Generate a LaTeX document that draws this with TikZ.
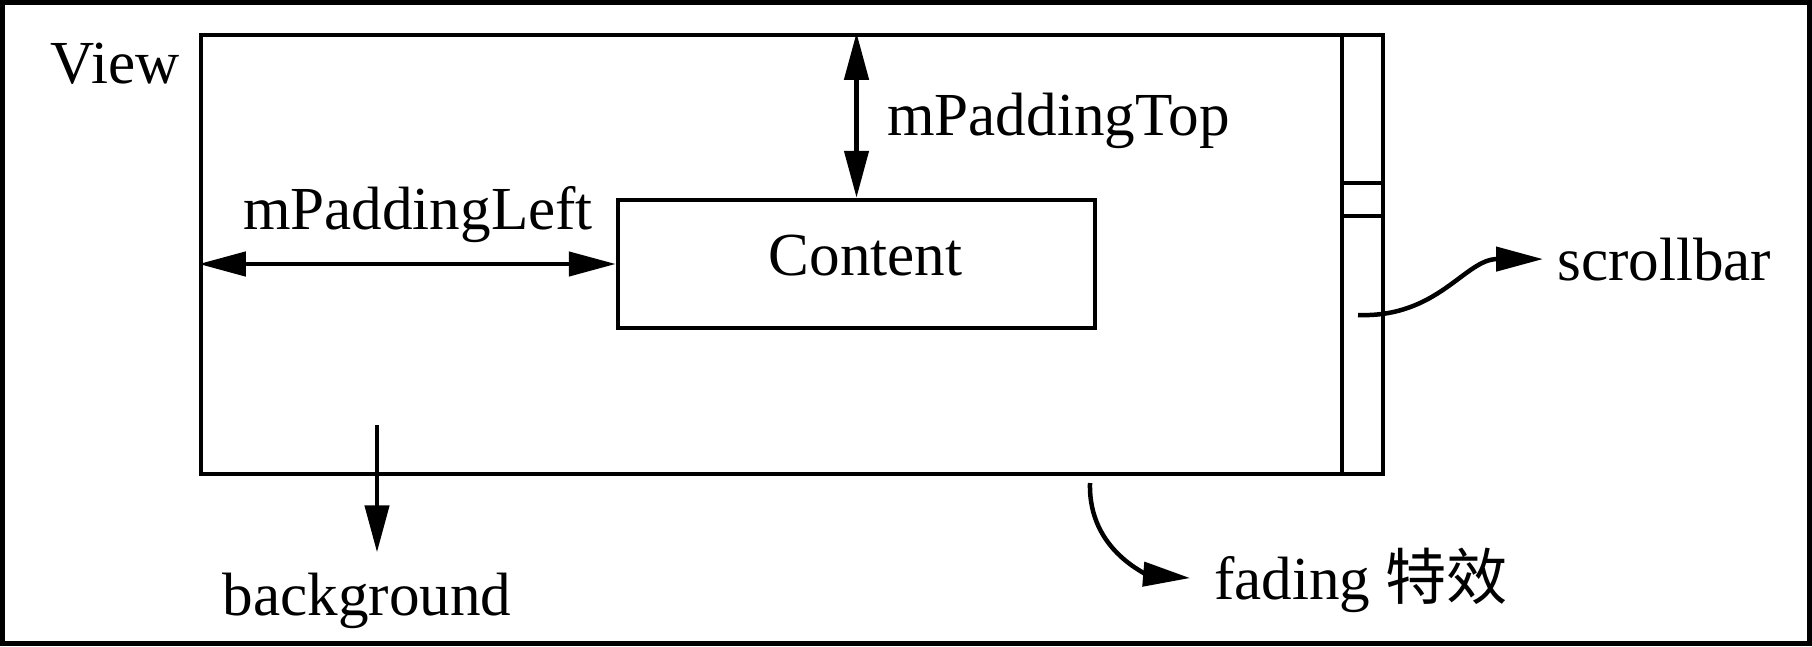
\documentclass[tikz,border=0pt]{standalone}
\usepackage{fontspec}
\setmainfont{Liberation Serif}
\newfontfamily\cjk{Noto Sans CJK SC}
\usetikzlibrary{arrows.meta,positioning}

\begin{document}
\begin{tikzpicture}[
    x=0.1mm, y=-0.1mm,
    line width=0.45mm,
    every node/.style={font=\fontsize{17.4pt}{20pt}\selectfont},
    frame/.style={rectangle, draw, inner sep=0pt},
    txt/.style={inner sep=0pt},
    arr/.style={-{Triangle[length=4.7mm, width=2.4mm]}},
    dblarr/.style={{Triangle[length=4.7mm, width=2.4mm]}-{Triangle[length=4.7mm, width=2.4mm]}}
]
    % Outer frame
    \useasboundingbox (0,0) rectangle (1812,646);
    \draw[line width=0.5mm] (2.5,2.5) rectangle (1809.5,643.5);

    % View box and scrollbar
    \node[frame, minimum width=118.2mm, minimum height=43.9mm] (view) at (792,254.5) {};
    \node[frame, minimum width=4.1mm, minimum height=43.9mm, anchor=east] (track) at (view.east) {};
    \node[frame, minimum width=4.1mm, minimum height=3.3mm] (thumb) at (1362.5,199.5) {};

    % Content box
    \node[frame, minimum width=47.7mm, minimum height=12.8mm] (content) at (856.5,264) {};
    \node[txt] (contentlabel) at ([xshift=0.9mm, yshift=0.8mm]content.center) {Content};

    % Labels
    \node[txt, anchor=base] (viewlabel) at (115,83) {View};
    \node[txt, anchor=base west] (padtop) at (885,135) {mPaddingTop};
    \node[txt, anchor=base] (padleft) at (418,229) {mPaddingLeft};
    \node[txt, anchor=base] (background) at (367,615) {background};
    \node[txt, anchor=base west] (scrollbar) at (1555,280) {scrollbar};
    \node[txt, anchor=base west] (fading) at (1212,599) {fading {\cjk 特效}};

    % Start points of the pointers
    \coordinate (bgstart) at (377,425);
    \coordinate (sbstart) at (1358,315);
    \coordinate (fadestart) at (1090,483);

    % Connections
    \draw[dblarr] (content.north) -- (content.north |- view.north);
    \draw[dblarr] (view.west |- content.west) -- (content.west);
    \draw[arr, shorten >=1.8mm] (bgstart) -- (bgstart |- background.north);
    \draw[arr, shorten >=1.2mm] (sbstart) .. controls +(80,3) and +(-90,0) .. (scrollbar.west);
    \draw[arr, shorten >=2.2mm] (fadestart) .. controls +(-2,70) and +(-60,-5) .. (fading.west);
\end{tikzpicture}
\end{document}
